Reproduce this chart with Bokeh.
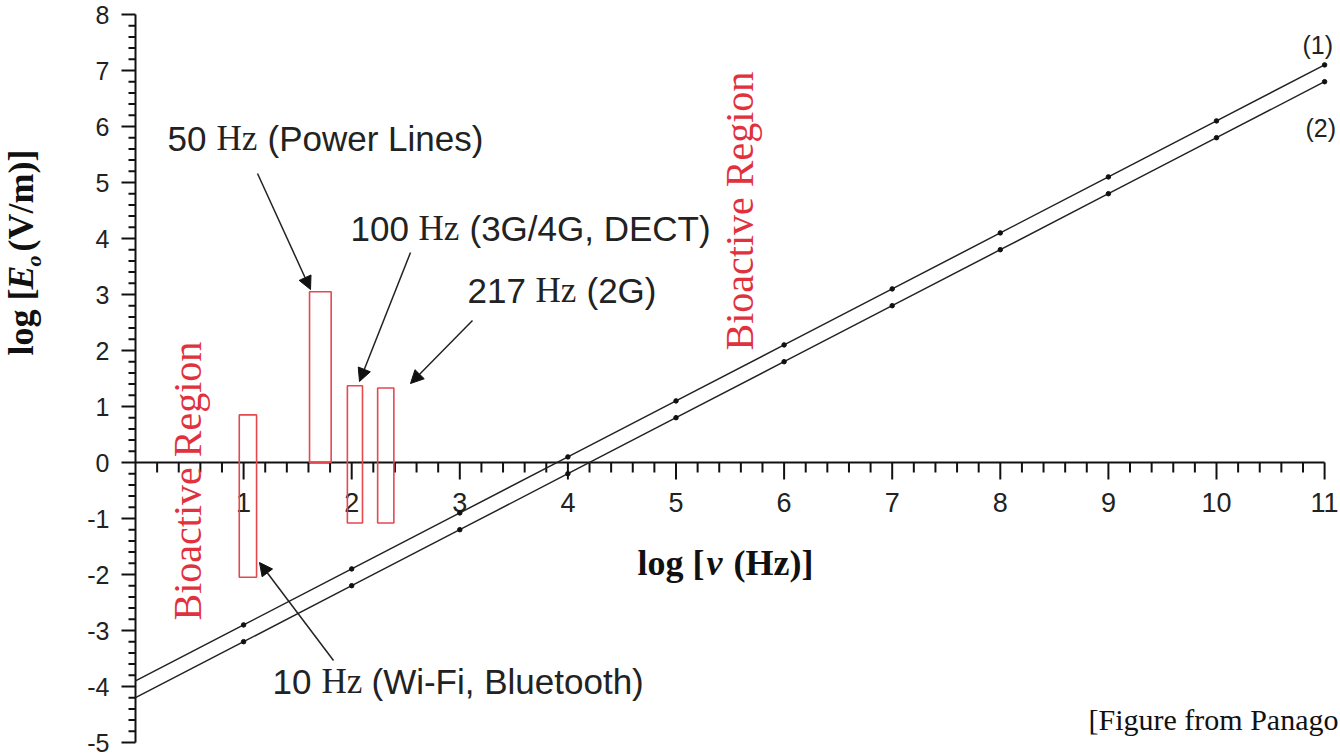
import numpy as np
from bokeh.plotting import figure
from bokeh.models import Arrow, NormalHead, Range1d
from bokeh.embed import file_html
from bokeh.resources import INLINE
from bokeh.core.properties import value

# ---------------- data ----------------
log_freq = [0, 1, 2, 3, 4, 5, 6, 7, 8, 9, 10, 11]
series1 = [-3.9, -2.9, -1.9, -0.9, 0.1, 1.1, 2.1, 3.1, 4.1, 5.1, 6.1, 7.1]
series2 = [-4.2, -3.2, -2.2, -1.2, -0.2, 0.8, 1.8, 2.8, 3.8, 4.8, 5.8, 6.8]

band_names = ["10 Hz", "50 Hz", "100 Hz", "217 Hz"]
band_left = [0.96, 1.61, 1.96, 2.24]
band_right = [1.12, 1.81, 2.10, 2.39]
band_bottom = [-2.05, 0.0, -1.08, -1.08]
band_top = [0.85, 3.05, 1.37, 1.33]

x_ticks = [1, 2, 3, 4, 5, 6, 7, 8, 9, 10, 11]
x_tick_labels = ["1", "2", "3", "4", "5", "6", "7", "8", "9", "10", "11"]
y_ticks = [-5, -4, -3, -2, -1, 0, 1, 2, 3, 4, 5, 6, 7, 8]
y_tick_labels = ["-5", "-4", "-3", "-2", "-1", "0", "1", "2", "3", "4", "5", "6", "7", "8"]

# ---------------- geometry (frame = whole canvas) ----------------
W, H = 1340, 756
ORIGIN_PX = 135.0     # pixel column of x = 0
PX_PER_X = 108.1
TOP_PX = 14.0         # pixel row of y = 8
PX_PER_Y = 56.0
X0 = -ORIGIN_PX / PX_PER_X
X1 = X0 + W / PX_PER_X
Y1 = 8 + TOP_PX / PX_PER_Y
Y0 = Y1 - H / PX_PER_Y
BASE_CORR = 0.4       # baseline correction, fraction of font size


def px2x(px):
    return X0 + px / PX_PER_X


def px2y(py):
    return Y1 - py / PX_PER_Y


def dx(pix):
    return pix / PX_PER_X


def dy(pix):
    return pix / PX_PER_Y


p = figure(width=W, height=H, x_range=Range1d(X0, X1), y_range=Range1d(Y0, Y1),
           x_axis_location=None, y_axis_location=None,
           toolbar_location=None, output_backend="svg",
           min_border=0, min_border_left=0, min_border_right=0,
           min_border_top=0, min_border_bottom=0)
p.grid.visible = False
p.outline_line_color = None
p.background_fill_color = "white"
p.border_fill_color = "white"

AX = "#111111"

# ---- y axis (at x = 0) ----
p.segment(x0=[0], y0=[y_ticks[0]], x1=[0], y1=[y_ticks[-1]], line_color=AX, line_width=2)
p.segment(x0=[0] * len(y_ticks), y0=y_ticks, x1=[-dx(14)] * len(y_ticks), y1=y_ticks,
          line_color=AX, line_width=2)
minor_y = [round(v, 1) for v in np.arange(-5, 8.001, 0.2) if abs(v - round(v)) > 1e-6]
p.segment(x0=[0] * len(minor_y), y0=minor_y, x1=[-dx(7)] * len(minor_y), y1=minor_y,
          line_color=AX, line_width=2)
p.text(x=[px2x(109)] * len(y_ticks), y=y_ticks, text=y_tick_labels,
       text_align="right", text_baseline="middle",
       text_font=value("Liberation Sans"), text_font_size=value("25px"), text_color="#222222")

# ---- x axis (at y = 0) ----
p.segment(x0=[0], y0=[0], x1=[x_ticks[-1]], y1=[0], line_color=AX, line_width=2)
p.segment(x0=x_ticks, y0=[0] * len(x_ticks), x1=x_ticks, y1=[-dy(17)] * len(x_ticks),
          line_color=AX, line_width=2)
minor_x = [round(v, 1) for v in np.arange(0.2, x_ticks[-1], 0.2) if abs(v - round(v)) > 1e-6]
p.segment(x0=minor_x, y0=[0] * len(minor_x), x1=minor_x, y1=[-dy(10)] * len(minor_x),
          line_color=AX, line_width=2)
p.text(x=x_ticks, y=[px2y(513 - BASE_CORR * 27)] * len(x_ticks), text=x_tick_labels,
       text_align="center", text_baseline="alphabetic",
       text_font=value("Liberation Sans"), text_font_size=value("27px"), text_color="#222222")

# ---- bands ----
p.quad(left=band_left, right=band_right, bottom=band_bottom, top=band_top,
       fill_color=None, line_color="#e5484f", line_width=1.6)

# ---- lines ----
p.line(log_freq, series1, line_color="#222222", line_width=1.5)
p.line(log_freq, series2, line_color="#222222", line_width=1.5)
p.scatter(log_freq[1:], series1[1:], size=4.5, color="#111111")
p.scatter(log_freq[1:], series2[1:], size=4.5, color="#111111")


# ---------------- text ----------------
def add_text(txt, px, py, font="Liberation Sans", size=35, style="normal",
             color="#222222", angle=0.0):
    if angle:
        px = px - BASE_CORR * size
    else:
        py = py - BASE_CORR * size
    p.text(x=[px2x(px)], y=[px2y(py)], text=[txt], text_font=value(font),
           text_font_size=value(f"{size}px"), text_font_style=style, text_color=color,
           angle=angle, text_align="left", text_baseline="alphabetic")


# annotations: (piece, font, left px, baseline px)
annotation_pieces = [
    ("50", "Liberation Sans", 167, 152), ("Hz", "Liberation Serif", 216, 152),
    ("(Power Lines)", "Liberation Sans", 267, 152),
    ("100", "Liberation Sans", 350, 242), ("Hz", "Liberation Serif", 418, 242),
    ("(3G/4G, DECT)", "Liberation Sans", 469, 242),
    ("217", "Liberation Sans", 467, 304), ("Hz", "Liberation Serif", 535, 304),
    ("(2G)", "Liberation Sans", 586, 304),
    ("10", "Liberation Sans", 272, 695), ("Hz", "Liberation Serif", 321, 695),
    ("(Wi-Fi, Bluetooth)", "Liberation Sans", 371, 695),
]
for txt, fnt, lx, by in annotation_pieces:
    add_text(txt, lx, by, font=fnt, size=35)

# arrows (tail px, tip px)
arrow_px = [
    (257, 173, 310, 289),
    (410, 252, 359, 381),
    (472, 320, 410, 383),
    (333, 660, 259, 562),
]
for x0, y0, x1, y1 in arrow_px:
    p.add_layout(Arrow(x_start=px2x(x0), y_start=px2y(y0), x_end=px2x(x1), y_end=px2y(y1),
                       line_color="#222222", line_width=1.5,
                       end=NormalHead(size=13, fill_color="#111111", line_color="#111111")))

# bioactive region labels
red = "#e0313c"
add_text("Bioactive Region", 203, 620, font="Liberation Serif", size=40, color=red,
         angle=np.pi / 2)
add_text("Bioactive Region", 755, 350, font="Liberation Serif", size=40, color=red,
         angle=np.pi / 2)

# series labels
add_text("(1)", 1302, 54, size=25)
add_text("(2)", 1305, 137, size=25)

# axis titles
add_text("log [", 637, 577, font="Liberation Serif", size=36, style="bold", color=AX)
add_text("v", 706, 577, font="Liberation Serif", size=36, style="bold italic", color=AX)
add_text("(Hz)]", 733, 577, font="Liberation Serif", size=36, style="bold", color=AX)

add_text("log [", 35, 355, font="Liberation Serif", size=36, style="bold",
         color=AX, angle=np.pi / 2)
add_text("E", 35, 289, font="Liberation Serif", size=36, style="bold italic",
         color=AX, angle=np.pi / 2)
add_text("o", 42, 266, font="Liberation Serif", size=22, style="bold italic",
         color=AX, angle=np.pi / 2)
add_text("(V/m)]", 35, 251, font="Liberation Serif", size=36, style="bold",
         color=AX, angle=np.pi / 2)

# credit
add_text("[Figure from Panago", 1088, 731, font="Liberation Serif", size=30, color=AX)

open("out.html", "w").write(file_html(p, INLINE))
